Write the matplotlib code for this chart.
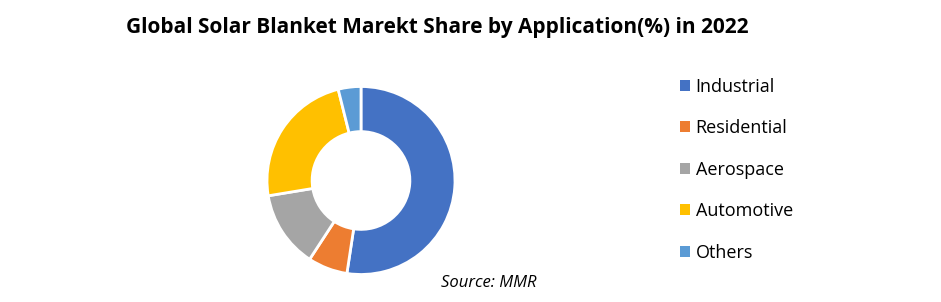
import matplotlib.pyplot as plt
from matplotlib.patches import Patch

labels = ["Industrial", "Residential", "Aerospace", "Automotive", "Others"]
shares = [52.4, 6.8, 13.2, 23.7, 3.9]
colors = ["#4472C4", "#ED7D31", "#A5A5A5", "#FFC000", "#5B9BD5"]

W, H = 941, 302
fig = plt.figure(figsize=(W / 100, H / 100), dpi=100)

# donut axes, centre ~ (361, 180), outer radius ~94 px
cx, cy, r = 361, 180.5, 94
ax = fig.add_axes([(cx - r) / W, (H - cy - r) / H, 2 * r / W, 2 * r / H])
ax.pie(shares, colors=colors, startangle=90, counterclock=False, radius=1,
       wedgeprops=dict(width=0.48, edgecolor="white", linewidth=2))
ax.set_xlim(-1, 1)
ax.set_ylim(-1, 1)
ax.set_aspect("equal")
ax.axis("off")

fig.text(437 / W, 1 - 27 / H, "Global Solar Blanket Marekt Share by Application(%) in 2022",
         ha="center", va="center", fontsize=15, fontweight="bold", family="Open Sans")

handles = [Patch(facecolor=c, edgecolor="none") for c in colors]
fig.legend(handles, labels, loc="upper left", bbox_to_anchor=(664 / W, 1 - 61.5 / H),
           frameon=False, handlelength=0.55, handleheight=0.55, handletextpad=0.3,
           labelspacing=1.3, prop={"family": "Open Sans", "size": 13})

fig.text(489 / W, 1 - 283 / H, "Source: MMR", ha="center", va="center",
         fontsize=12, style="italic", family="Open Sans")

fig.savefig("out.png", dpi=100)
